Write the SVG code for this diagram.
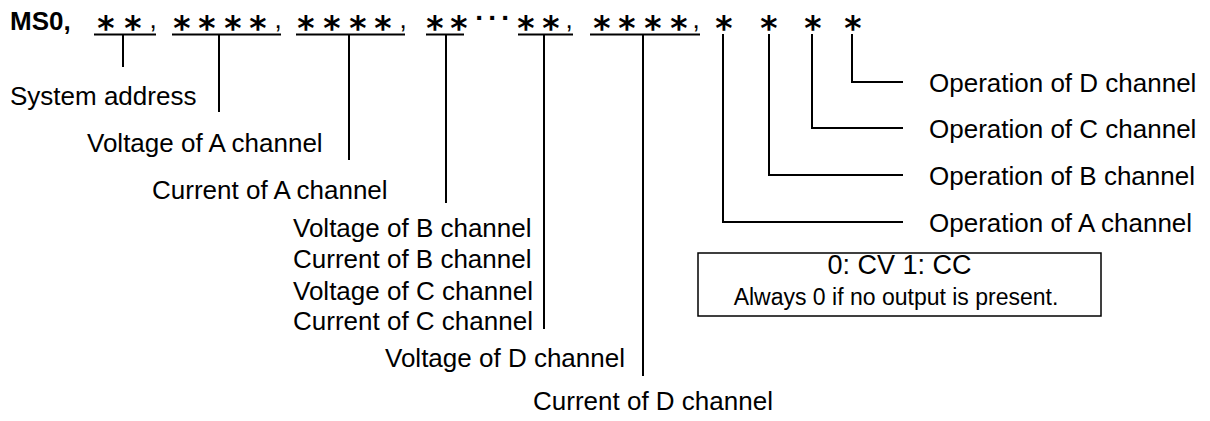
<svg xmlns="http://www.w3.org/2000/svg" width="1210" height="421" viewBox="0 0 1210 421">
<style>
text{font-family:"Liberation Sans",Arial,sans-serif;fill:#000}
.lbl{font-size:26px}
.ast{font-family:"DejaVu Sans",sans-serif;font-size:33px;font-weight:bold}
.cm{font-size:26px}
.hd{font-size:26px;font-weight:bold}
.ln{stroke:#000;stroke-width:2;fill:none}
.box{stroke:#000;stroke-width:1.5;fill:#fff}
</style>
<rect width="1210" height="421" fill="#fff"/>
<g id="command">
<text class="hd" x="10" y="30">MS0,</text>
<text class="ast" text-anchor="middle" y="40"><tspan x="106">*</tspan><tspan x="133">*</tspan><tspan x="182">*</tspan><tspan x="207">*</tspan><tspan x="233">*</tspan><tspan x="258">*</tspan><tspan x="306">*</tspan><tspan x="332">*</tspan><tspan x="358">*</tspan><tspan x="383">*</tspan><tspan x="435">*</tspan><tspan x="459">*</tspan><tspan x="526">*</tspan><tspan x="551">*</tspan><tspan x="602">*</tspan><tspan x="627">*</tspan><tspan x="653">*</tspan><tspan x="679">*</tspan><tspan x="724">*</tspan><tspan x="769">*</tspan><tspan x="813">*</tspan><tspan x="853">*</tspan></text>
<text class="cm" text-anchor="middle" y="28"><tspan x="153">,</tspan><tspan x="278">,</tspan><tspan x="403">,</tspan><tspan x="569">,</tspan><tspan x="696">,</tspan></text>
<text class="hd" text-anchor="middle" y="27" style="font-size:28px"><tspan x="480">·</tspan><tspan x="493">·</tspan><tspan x="506">·</tspan></text>
</g>
<g id="connectors" class="ln">
<path d="M94 34.5H156M172 34.5H281M296 34.5H405M426 34.5H464M518 34.5H573M590 34.5H700"/>
<path d="M123 34.5V67M219 34.5V112M349 34.5V160M446 34.5V203M544 34.5V329M643 34.5V376"/>
<path d="M723 34V222H903M769 34V175H903M812 34V128H903M852 34V82H903"/>
</g>
<g id="n-sysaddr"><text class="lbl" x="10" y="105">System address</text></g>
<g id="n-va"><text class="lbl" x="87" y="152">Voltage of A channel</text></g>
<g id="n-ia"><text class="lbl" x="152" y="199">Current of A channel</text></g>
<g id="n-bc">
<text class="lbl" x="293" y="237">Voltage of B channel</text>
<text class="lbl" x="293" y="268">Current of B channel</text>
<text class="lbl" x="293" y="300">Voltage of C channel</text>
<text class="lbl" x="293" y="330">Current of C channel</text>
</g>
<g id="n-vd"><text class="lbl" x="385" y="367">Voltage of D channel</text></g>
<g id="n-id"><text class="lbl" x="533" y="410">Current of D channel</text></g>
<g id="n-opd"><text class="lbl" x="929" y="91.5">Operation of D channel</text></g>
<g id="n-opc"><text class="lbl" x="929" y="137.5">Operation of C channel</text></g>
<g id="n-opb"><text class="lbl" x="929" y="184.5">Operation of B channel</text></g>
<g id="n-opa"><text class="lbl" x="929" y="231.5">Operation of A channel</text></g>
<g id="n-note">
<rect class="box" x="698" y="253" width="403" height="63"/>
<text x="899.5" y="274" text-anchor="middle" style="font-size:27px">0: CV 1: CC</text>
<text x="896" y="305" text-anchor="middle" style="font-size:23px">Always 0 if no output is present.</text>
</g>
</svg>
